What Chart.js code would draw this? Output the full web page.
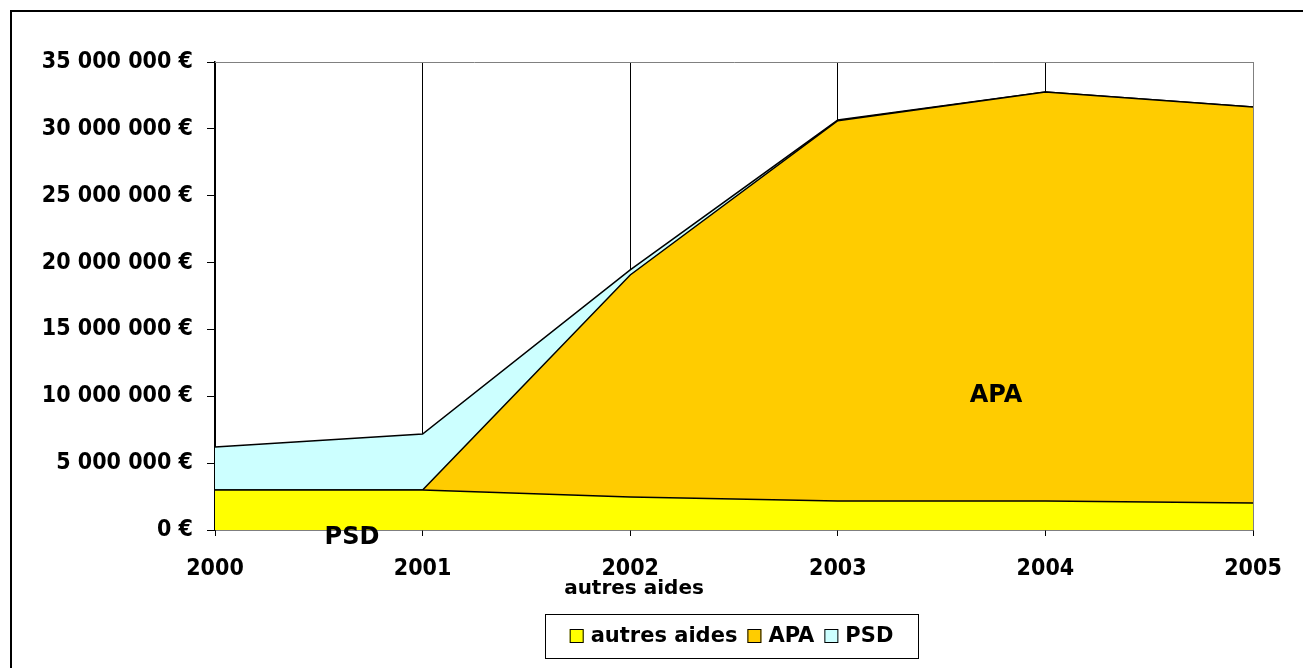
<!DOCTYPE html>
<html lang="fr">
<head>
<meta charset="UTF-8">
<title>autres aides / APA / PSD</title>
<script src="https://cdn.jsdelivr.net/npm/chart.js"></script>
<style>
body{margin:0;background:#fff;}
canvas{display:block;}
</style>
</head>
<body>
<canvas id="aides" width="1303" height="668"></canvas>
<script>

const years = ['2000','2001','2002','2003','2004','2005'];
const autresAides = [2990000, 2990000, 2470000, 2170000, 2170000, 2020000];
const apa = [0, 0, 16600000, 28440000, 30590000, 29620000];
const psd = [3220000, 4190000, 380000, 50000, 0, 0];
const seriesNames = ['autres aides','APA','PSD'];
const seriesColors = ['#ffff00','#ffcc00','#ccffff'];

const tickFont = {family:"'DejaVu Sans Condensed','Liberation Sans Narrow','DejaVu Sans',sans-serif", weight:'bold', size:23};
const boldFont = "'DejaVu Sans','Liberation Sans',sans-serif";

function euro(v){
    return String(v).replace(/\B(?=(\d{3})+(?!\d))/g,' ') + ' €';
}

// frame, plot border, in-chart labels and boxed legend
const extras = {
    id:'extras',
    beforeDatasetsDraw(chart){
        const a = chart.chartArea, c = chart.ctx;
        c.save();
        c.strokeStyle = '#808080';
        c.lineWidth = 1;
        c.beginPath();
        c.moveTo(a.left, a.top + 0.5);
        c.lineTo(a.right + 0.5, a.top + 0.5);
        c.lineTo(a.right + 0.5, a.bottom);
        c.stroke();
        c.restore();
    },
    afterDraw(chart){
        const c = chart.ctx;
        c.save();
        c.strokeStyle = '#000';
        c.lineWidth = 2;
        c.strokeRect(11, 11, 1400, 800);

        c.fillStyle = '#000';
        c.textAlign = 'center';
        c.textBaseline = 'middle';
        c.font = 'bold 24px ' + boldFont;
        c.fillText('APA', 996, 396);
        c.fillText('PSD', 352, 538);
        c.font = 'bold 20px ' + boldFont;
        c.fillText('autres aides', 634, 589);

        // legend
        c.font = 'bold 21px ' + boldFont;
        const sw = 14, gapIn = 7, gapOut = 10;
        let total = 0;
        const widths = seriesNames.map(n => c.measureText(n).width);
        widths.forEach((w,i) => total += sw + gapIn + w + (i < widths.length-1 ? gapOut : 0));
        const boxL = 545, boxR = 918, boxT = 614, boxB = 658;
        c.lineWidth = 1;
        c.strokeRect(boxL + 0.5, boxT + 0.5, boxR - boxL, boxB - boxT);
        let x = (boxL + boxR) / 2 - total / 2;
        const cy = (boxT + boxB) / 2;
        c.textAlign = 'left';
        seriesNames.forEach((n,i) => {
            c.fillStyle = seriesColors[i];
            c.fillRect(x, cy - sw/2, sw, sw);
            c.strokeStyle = '#000';
            c.strokeRect(x + 0.5, cy - sw/2 + 0.5, sw - 1, sw - 1);
            c.fillStyle = '#000';
            c.fillText(n, x + sw + gapIn, cy + 1);
            x += sw + gapIn + widths[i] + gapOut;
        });
        c.restore();
    }
};

const series = [autresAides, apa, psd];

new Chart(document.getElementById('aides'), {
    type:'line',
    data:{
        labels:years,
        datasets:series.map((d,i) => ({
            label:seriesNames[i],
            data:d,
            backgroundColor:seriesColors[i],
            borderColor:'#000',
            borderWidth:1.5,
            fill:i === 0 ? 'origin' : '-1',
            pointRadius:0,
            tension:0
        }))
    },
    options:{
        responsive:false,
        animation:false,
        layout:{padding:{top:62, right:50, left:0, bottom:0}},
        plugins:{
            legend:{display:false},
            tooltip:{enabled:false}
        },
        scales:{
            x:{
                offset:false,
                grid:{
                    color:ctx => ctx.index === years.length - 1 ? '#808080' : '#000',
                    tickColor:'#000',
                    tickLength:6,
                    lineWidth:1
                },
                border:{color:'#000', width:1.5},
                ticks:{color:'#000', font:tickFont, padding:19, maxRotation:0},
                afterFit(s){ s.height = 138; }
            },
            y:{
                stacked:true,
                min:0,
                max:35000000,
                grid:{drawOnChartArea:false, tickColor:'#000', tickLength:8},
                border:{color:'#000', width:1.5},
                ticks:{stepSize:5000000, color:'#000', font:tickFont, padding:14, callback:v => euro(v)},
                afterFit(s){ s.width = 215; }
            }
        }
    },
    plugins:[extras]
});

</script>
</body>
</html>
